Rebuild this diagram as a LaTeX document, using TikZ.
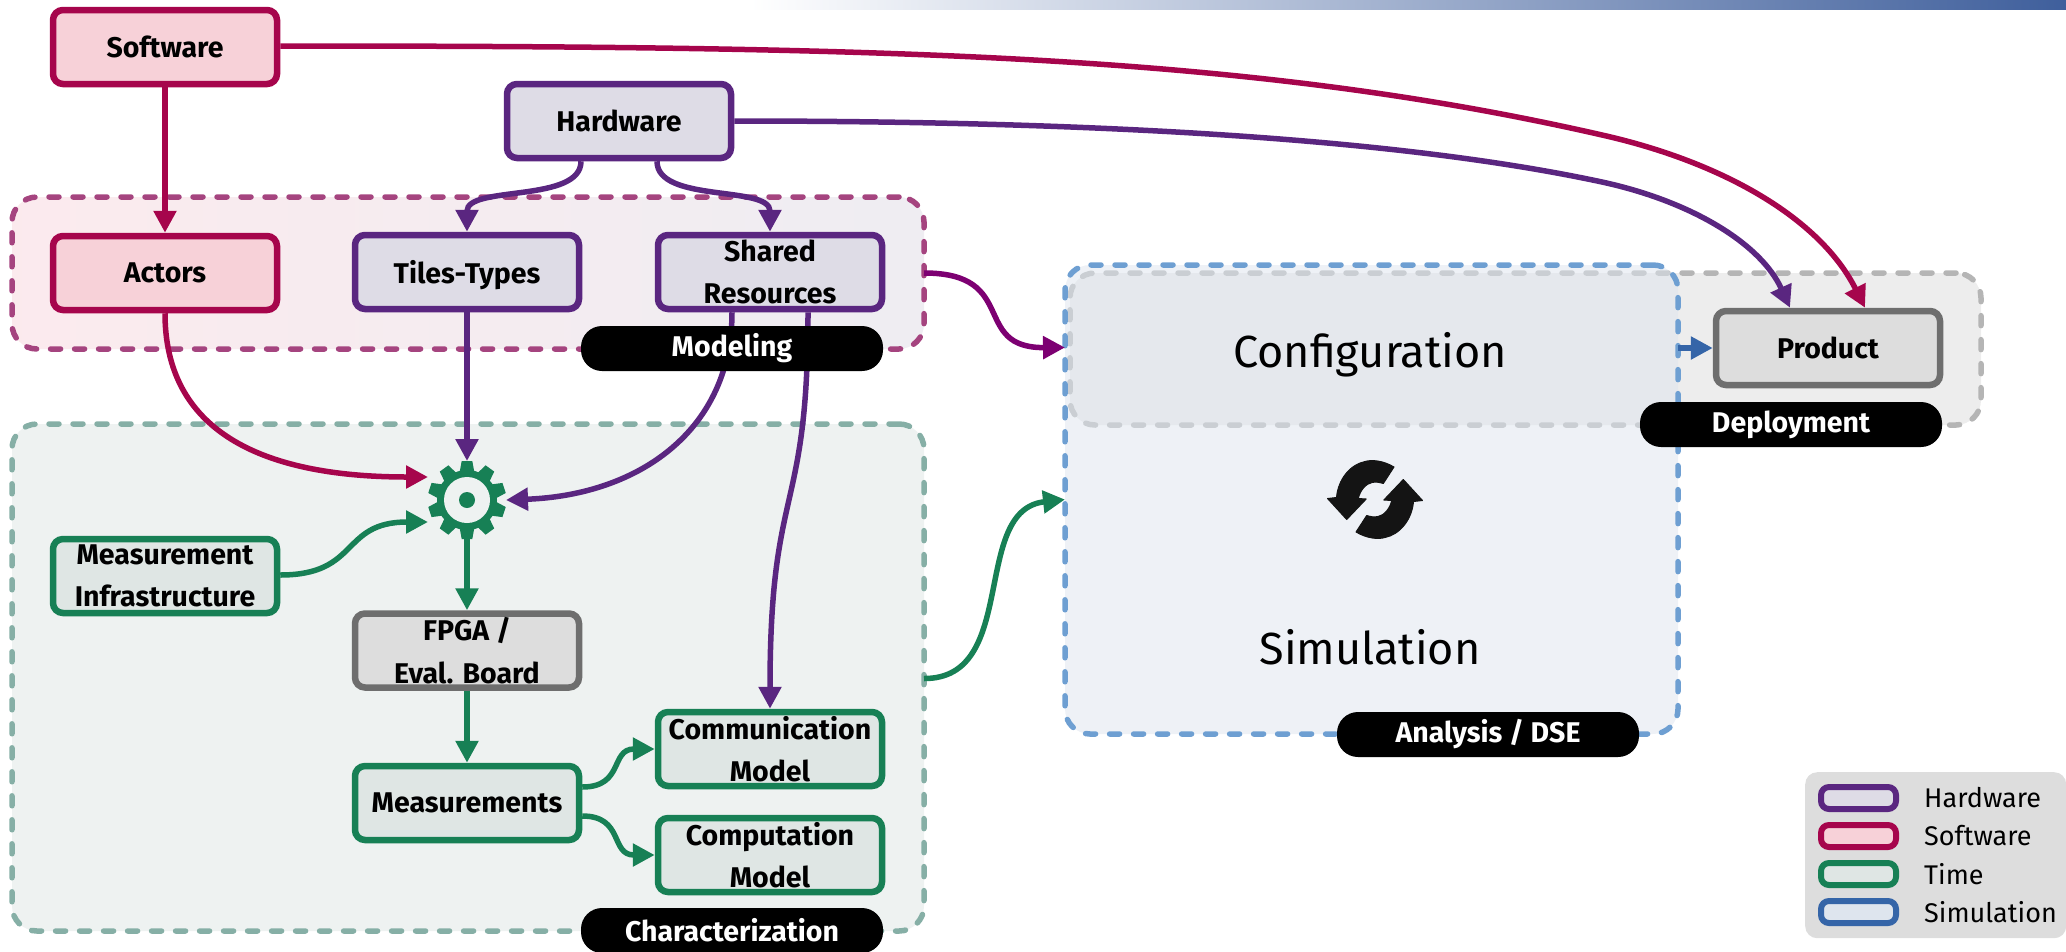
\documentclass[tikz,border=0pt]{standalone}
\usepackage{fontspec}
\setmainfont{Fira Sans}
\usetikzlibrary{arrows.meta}
\definecolor{swS}{HTML}{A6054C}\definecolor{swF}{HTML}{F7D1D8}
\definecolor{hwS}{HTML}{5A2680}\definecolor{hwF}{HTML}{DEDCE6}
\definecolor{tmS}{HTML}{178055}\definecolor{tmF}{HTML}{DFE6E4}
\definecolor{grS}{HTML}{6E6E6E}\definecolor{grF}{HTML}{DDDDDD}
\definecolor{siS}{HTML}{3565A8}\definecolor{siF}{HTML}{DEE5EE}
\definecolor{mdl}{HTML}{A5447F}\definecolor{chr}{HTML}{86AFA6}\definecolor{chrF}{HTML}{EEF2F1}
\definecolor{dse}{HTML}{6E9FD2}\definecolor{dep}{HTML}{B5B5B5}\definecolor{mix}{HTML}{7D0072}
\definecolor{barM}{HTML}{D2D2E6}\definecolor{barR}{HTML}{3F5F9C}
\tikzset{
  x=1pt,y=-1pt,
  box/.style={draw,line width=6.5pt,rounded corners=10pt,minimum width=224pt,minimum height=74pt,inner sep=0pt,align=center,font=\fontsize{28.5}{42.5}\selectfont\bfseries},
  swbox/.style={box,draw=swS,fill=swF},
  hwbox/.style={box,draw=hwS,fill=hwF},
  tmbox/.style={box,draw=tmS,fill=tmF},
  grbox/.style={box,draw=grS,fill=grF},
  group/.style={draw,line width=5.5pt,rounded corners=25pt,dash pattern=on 10pt off 14pt,line cap=round,inner sep=0pt,outer sep=0pt,anchor=north west},
  pill/.style={fill=black,text=white,rounded corners=21pt,minimum width=302pt,minimum height=45pt,inner sep=0pt,font=\fontsize{28.5}{30}\selectfont\bfseries},
  conn/.style={line width=5.5pt,-{Triangle[length=22pt,width=22pt]}},
  swatch/.style={draw,line width=6pt,rounded corners=8pt,minimum width=75pt,minimum height=22pt,inner sep=0pt},
  legtext/.style={anchor=west,inner sep=0pt,font=\fontsize{27}{30}\selectfont},
  bigtext/.style={inner sep=0pt,font=\fontsize{45}{50}\selectfont},
}
\begin{document}
\begin{tikzpicture}
\useasboundingbox (0,0) rectangle (2066,951);
\shade[left color=white,middle color=barM,right color=barR] (750,0) rectangle (2066,9);
% groups
\node[group,draw=mdl,left color=swF!45!white,right color=hwF!50!white,minimum width=912pt,minimum height=152pt] (gmodel) at (12,197) {};
\node[group,draw=chr,fill=chrF,minimum width=912pt,minimum height=507pt] (gchar) at (12,424) {};
\node[group,draw=dep,fill=black!7,minimum width=911pt,minimum height=152pt] (gdep) at (1070,273) {};
\node[group,draw=dse,draw opacity=1,fill=siF,fill opacity=.53,minimum width=613pt,minimum height=469pt] (gdse) at (1065,265) {};
% boxes
\node[swbox] (soft) at (165,47) {Software};
\node[hwbox] (hard) at (619,121) {Hardware};
\node[swbox] (actors) at (165,273) {Actors};
\node[hwbox,text depth=0pt] (tiles) at (467,272) {Tiles-Types};
\node[hwbox] (shared) at (770,272) {Shared\\Resources};
\node[tmbox] (infra) at (165,576) {Measurement\\Infrastructure};
\node[grbox] (fpga) at (467,650.5) {FPGA /\\Eval. Board};
\node[tmbox] (meas) at (467,803) {Measurements};
\node[tmbox] (comm) at (770,749) {Communication\\Model};
\node[tmbox] (comp) at (770,855) {Computation\\Model};
\node[grbox] (prod) at (1828,348) {Product};
% gear
\node[circle,minimum size=78pt,inner sep=0pt,outer sep=0pt] (gear) at (467,500) {};
\fill[tmS] (gear.center) circle[radius=30pt];
\foreach \a in {90,54,18,-18,-54,-90,-126,-162,162,126}
  \fill[tmS,rotate around={\a:(gear.center)}] ([shift={(27,-7.5)}]gear.center) -- ([shift={(39,-5.3)}]gear.center) -- ([shift={(39,5.3)}]gear.center) -- ([shift={(27,7.5)}]gear.center) -- cycle;
\fill[chrF] (gear.center) circle[radius=23pt];
\fill[tmS] (gear.center) circle[radius=8pt];
% connectors
\draw[conn,swS] (soft.south) -- (actors.north);
\draw[conn,swS] (actors.south) .. controls +(0,117) and (260,477) .. ([yshift=23pt]gear.west);
\draw[conn,hwS] (tiles.south) -- (gear.north);
\draw[conn,hwS] ([xshift=-38pt]hard.south) .. controls +(0,42) and (467,185) .. (tiles.north);
\draw[conn,hwS] ([xshift=38pt]hard.south) .. controls +(0,42) and (770,185) .. (shared.north);
\draw[conn,hwS] ([xshift=-38pt]shared.south) .. controls +(0,117) and (640,495) .. (gear.east);
\draw[conn,hwS] ([xshift=38pt]shared.south) .. controls +(0,207) and (770,480) .. (comm.north);
\draw[conn,tmS] ([yshift=1pt]infra.east) .. controls +(80,0) and (340,522) .. ([yshift=-22pt]gear.west);
\draw[conn,tmS] (gear.south) -- (fpga.north);
\draw[conn,tmS] (fpga.south) -- (meas.north);
\draw[conn,tmS] ([yshift=16pt]meas.east) .. controls +(42,0) and (610,749) .. (comm.west);
\draw[conn,tmS] ([yshift=-13pt]meas.east) .. controls +(42,0) and (610,855) .. (comp.west);
\coordinate (swmid) at (1602,135);
\coordinate (hwmid) at (1602,182);
\draw[conn,swS] ([yshift=1pt]soft.east) .. controls (900,46) and (1252,55) .. (swmid) .. controls (1722,162) and (1820,218) .. ([xshift=37pt]prod.north);
\draw[conn,hwS] (hard.east) .. controls (1100,121) and (1402,139) .. (hwmid) .. controls (1692,201.5) and (1761,244) .. ([xshift=-38pt]prod.north);
\draw[conn,mix] ([yshift=0pt]gmodel.east) .. controls (1020,273) and (970,348) .. ([yshift=152pt]gdse.west);
\draw[conn,tmS] ([yshift=-1pt]gchar.east) .. controls (1020,679) and (970,510) .. (gdse.west);
\draw[conn,siS] (gdse.east |- prod.west) -- (prod.west);
% pills
\node[pill] (pmodel) at (732,348.5) {Modeling};
\node[pill] (pchar) at (732,930.5) {Characterization};
\node[pill] (pdep) at (1791,424.5) {Deployment};
\node[pill] (pdse) at (1488,734.5) {Analysis / DSE};
% big labels
\node[bigtext] (cfg) at (1370,355) {Configuration};
\node[bigtext] (sim) at (1370,647) {Simulation};
% sync icon
\begin{scope}[shift={(1375,499.5)}]
\foreach \r in {0,180}
\fill[black!92,rotate=\r,line join=round,draw=black!92,line width=1pt]
  (19,-32.5) .. controls (8,-39) and (-3,-40) .. (-10,-38) .. controls (-25,-35) and (-37,-20) .. (-38.5,-2)
  -- (-47.5,-1) -- (-28.3,20) -- (-8.8,-.5) -- (-16.7,-1)
  .. controls (-15,-9) and (-9,-16) .. (-3,-17) .. controls (1,-18) and (5,-17) .. (8.3,-16) -- cycle;
\end{scope}
% legend
\node[fill=grF,rounded corners=12pt,minimum width=261pt,minimum height=166pt,inner sep=0pt,anchor=north west] (leg) at (1805,772) {};
\node[swatch,draw=hwS,fill=hwF] (l1) at (1858.5,798) {};
\node[swatch,draw=swS,fill=swF] (l2) at (1858.5,836) {};
\node[swatch,draw=tmS,fill=tmF] (l3) at (1858.5,874) {};
\node[swatch,draw=siS,fill=siF] (l4) at (1858.5,912) {};
\node[legtext] at (1924,798) {Hardware};
\node[legtext] at (1924,836) {Software};
\node[legtext] at (1924,874) {Time};
\node[legtext] at (1924,912) {Simulation};
\end{tikzpicture}
\end{document}
